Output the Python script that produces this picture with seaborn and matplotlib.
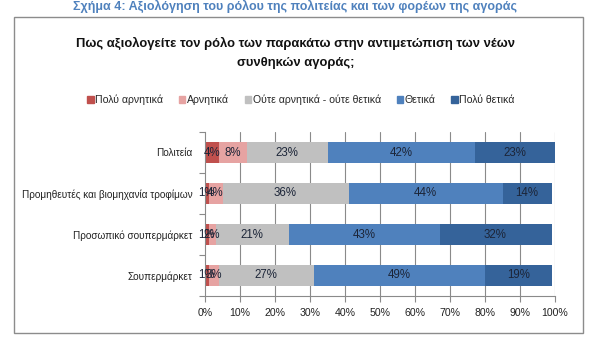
import matplotlib
matplotlib.use("Agg")
import matplotlib.pyplot as plt
from matplotlib.patches import Rectangle
import numpy as np
import pandas as pd
import seaborn as sns

# Survey data (percent of respondents)
categories = ["Πολιτεία", "Προμηθευτές και βιομηχανία τροφίμων",
              "Προσωπικό σουπερμάρκετ", "Σουπερμάρκετ"]
series = ["Πολύ αρνητικά", "Αρνητικά", "Ούτε αρνητικά - ούτε θετικά",
          "Θετικά", "Πολύ θετικά"]
very_negative = [4, 1, 1, 1]
negative = [8, 4, 2, 3]
neutral = [23, 36, 21, 27]
positive = [42, 44, 43, 49]
very_positive = [23, 14, 32, 19]
tick_labels = [f"{v}%" for v in range(0, 101, 10)]

colors = ["#C0504D", "#E6A3A2", "#C0C0C0", "#4F81BD", "#35639A"]
values = np.array([very_negative, negative, neutral, positive, very_positive], dtype=float)
cum = np.cumsum(values, axis=0)

sns.set_theme(style="white")
plt.rcParams["font.family"] = ["Liberation Sans", "DejaVu Sans"]

fig = plt.figure(figsize=(5.9, 3.41), dpi=100)
ax = fig.add_axes([205 / 590, 1 - 296 / 341, 350 / 590, 164 / 341])

# Outer chart frame
fig.patches.append(Rectangle((14 / 590, 1 - 333 / 341), 569 / 590, 316 / 341,
                             transform=fig.transFigure, fill=False,
                             edgecolor="#8C8C8C", linewidth=1.0, zorder=0))

# Vertical gridlines
for v in range(10, 101, 10):
    ax.axvline(v, color="#8A8A8A", linewidth=0.8, zorder=0)

# Stacked bars: draw cumulative totals from the outermost segment inward
for i in range(len(series) - 1, -1, -1):
    df = pd.DataFrame({"category": categories, "value": cum[i]})
    sns.barplot(data=df, x="value", y="category", orient="h", color=colors[i],
                width=0.5, saturation=1, ax=ax, zorder=2, linewidth=0)

# Segment labels
for i in range(len(series)):
    for j in range(len(categories)):
        start = cum[i, j] - values[i, j]
        ax.text(start + values[i, j] / 2, j, f"{int(values[i, j])}%",
                ha="center", va="center", fontsize=8.3, color="#1C2538", zorder=3)

ax.set_xlim(0, 100)
ax.set_ylim(3.5, -0.5)
ax.set_xticks(range(0, 101, 10))
ax.set_xticklabels(tick_labels, fontsize=7.6, color="#222222")
ax.set_yticks(range(len(categories)))
ax.set_yticklabels(categories, fontsize=7.2, color="#222222")
ax.set_yticks([-0.5, 0.5, 1.5, 2.5, 3.5], minor=True)
ax.tick_params(axis="y", which="major", left=False, length=0, pad=9)
ax.tick_params(axis="y", which="minor", left=True, length=4, width=0.8,
               color="#8A8A8A", direction="out")
ax.tick_params(axis="x", which="major", bottom=True, length=4, width=0.8,
               color="#8A8A8A", direction="out", pad=5)
ax.set_xlabel("")
ax.set_ylabel("")
for s in ["top", "right"]:
    ax.spines[s].set_visible(False)
for s in ["left", "bottom"]:
    ax.spines[s].set_color("#8A8A8A")
    ax.spines[s].set_linewidth(0.8)

# Legend
handles = [Rectangle((0, 0), 1, 1, color=c) for c in colors]
fig.legend(handles, series, loc="center", bbox_to_anchor=(301 / 590, 1 - 100 / 341),
           ncol=5, frameon=False, handlelength=0.6, handleheight=0.75,
           handletextpad=0.15, columnspacing=1.5, prop={"size": 7.6})

# Titles
fig.text(295 / 590, 1 - 6 / 341,
         "Σχήμα 4: Αξιολόγηση του ρόλου της πολιτείας και των φορέων της αγοράς",
         ha="center", va="center", fontsize=9, fontweight="bold", color="#4F81BD")
fig.text(296 / 590, 1 - 53 / 341,
         "Πως αξιολογείτε τον ρόλο των παρακάτω στην αντιμετώπιση των νέων\nσυνθηκών αγοράς;",
         ha="center", va="center", fontsize=9.4, fontweight="bold", color="#111111",
         linespacing=1.7)

fig.savefig("out.png", dpi=100)
